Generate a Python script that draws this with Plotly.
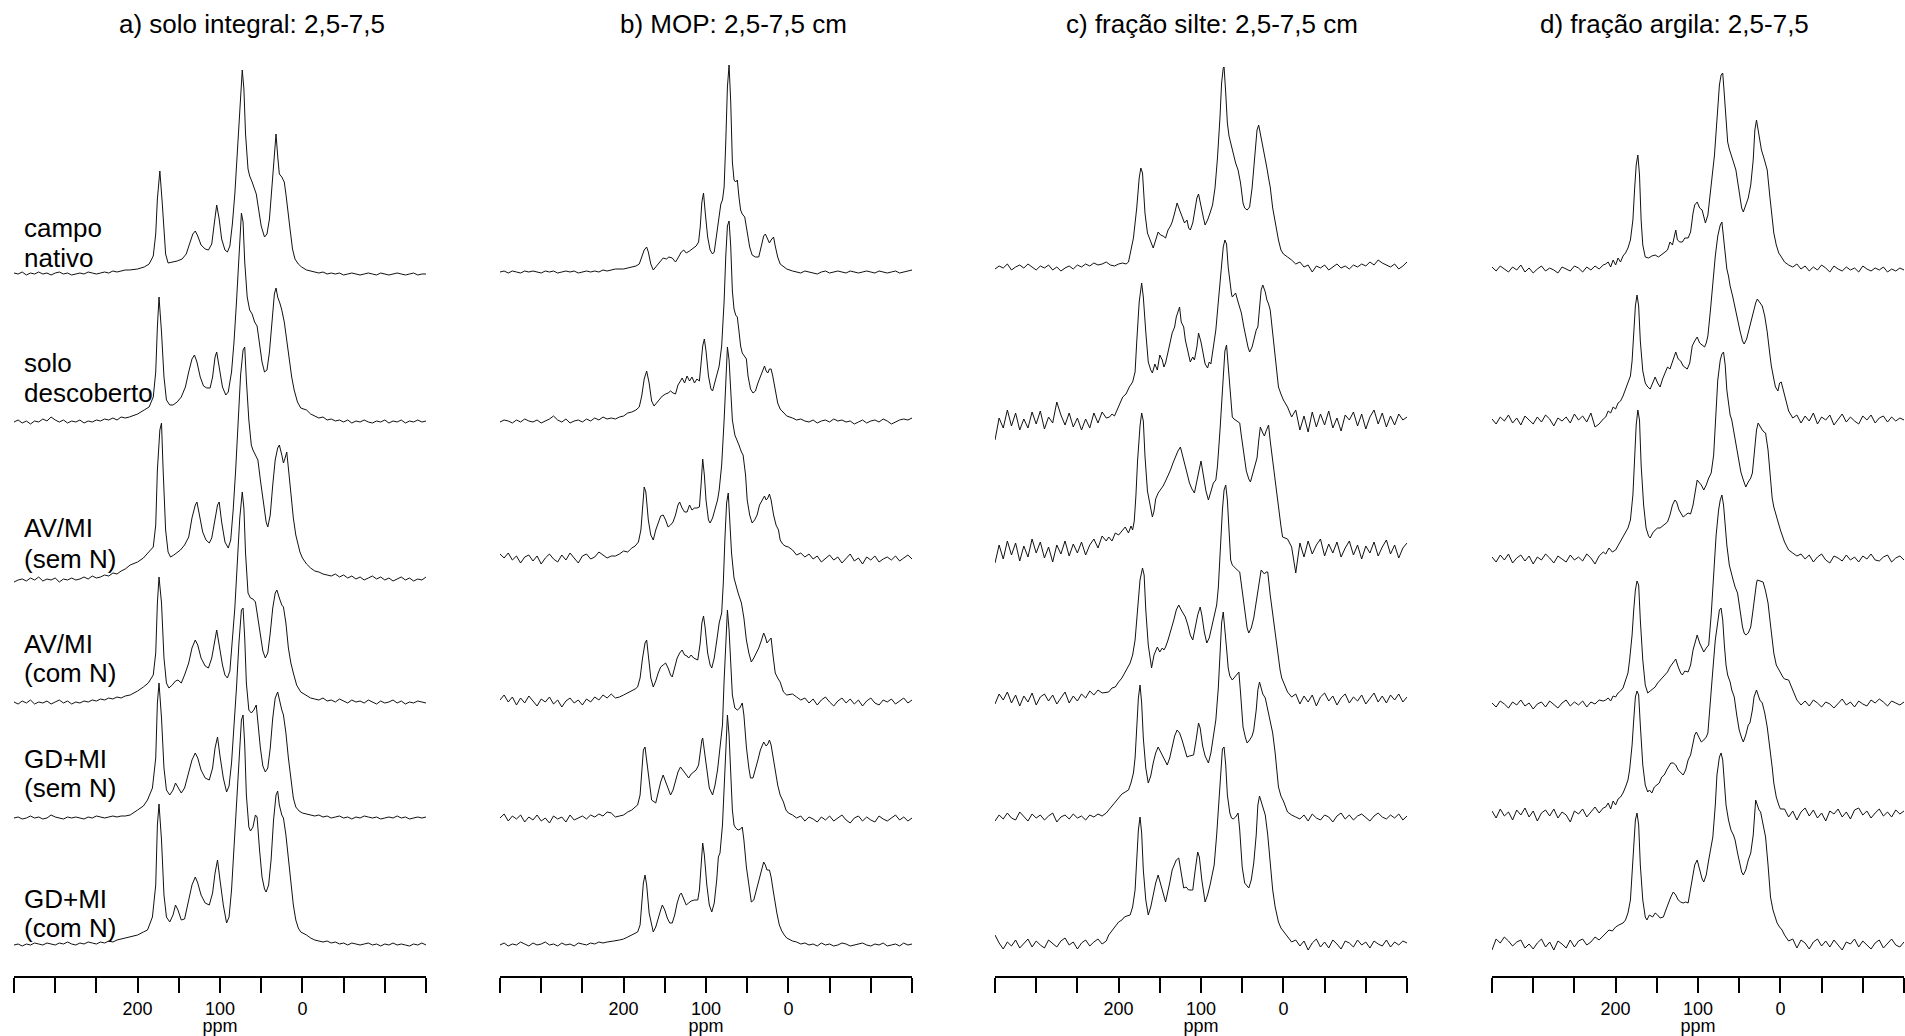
import plotly.graph_objects as go

# ---------------- data ----------------
LEFT_PPM = [350, 345, 340, 335, 330, 325, 320, 315, 310, 305, 300, 295, 290, 285,
            280, 275, 270, 265, 260, 255, 250, 245, 240, 235, 230, 225, 220, 215]
RIGHT_PPM = [-5, -10, -15, -20, -25, -30, -35, -40, -45, -50, -55, -60, -65, -70, -75,
             -80, -85, -90, -95, -100, -105, -110, -115, -120, -125, -130, -135, -140, -145, -150]

AXIS_TICKS = [350, 300, 250, 200, 150, 100, 50, 0, -50, -100, -150]
AXIS_TICKTEXT = ["", "", "", "200", "", "100", "", "0", "", "", ""]

PANEL_TITLES = ["a) solo integral: 2,5-7,5", "b) MOP: 2,5-7,5 cm",
                "c) fração silte: 2,5-7,5 cm", "d) fração argila: 2,5-7,5"]
SAMPLE_LABELS = [["campo", "nativo"], ["solo", "descoberto"], ["AV/MI", "(sem N)"],
                 ["AV/MI", "(com N)"], ["GD+MI", "(sem N)"], ["GD+MI", "(com N)"]]

# ---- panel a: solo integral ----
A1_LEFT = [1,0,2,-1,1,0,2, 0,1,-1,1,2,0,1, -1,0,1,0,2,1,0, 1,2,1,3,2,3,4]
A1_PEAK = [(210,4),(200,5),(192,7),(186,10),(181,18),(178,40),(176,75),(173,103),(170,70),(168,38),
           (166,20),(163,11),(158,12),(152,13),(146,15),(141,20),(137,30),(133,40),(130,43),(127,38),
           (123,29),(118,25),(114,24),(110,30),(107,50),(104,69),(101,55),(98,35),(94,24),(91,22),
           (88,28),(85,50),(82,80),(79,120),(76,170),(73,204),(71,185),(69,140),(66,105),(64,98),
           (61,92),(58,84),(56,80),(53,64),(50,48),(46,37),(43,40),(40,55),(37,90),(34,125),
           (32,140),(30,118),(28,100),(25,97),(22,92),(20,80),(18,68),(15,45),(12,25),(9,15),(5,10),(1,7)]
A1_RIGHT = [4,3,2,1,2,0, 1,0,1,-1,0,1, 0,-1,0,1,0,-1, 1,0,-1,0,1,0, -1,0,1,-1,0,0]

A2_LEFT = [0,2,-1,1,-2,1,0, 3,1,5,2,0,2,-1, 1,0,2,-1,1,0,2, 1,3,2,4,2,5,4]
A2_PEAK = [(210,5),(200,8),(192,12),(186,15),(181,25),(178,50),(176,95),(174,125),(171,90),(168,45),
           (165,22),(161,17),(157,17),(152,20),(147,25),(142,35),(138,50),(134,63),(131,67),(128,60),
           (124,45),(120,36),(116,34),(112,34),(109,45),(106,65),(104,70),(101,55),(97,35),(93,27),
           (90,30),(86,50),(83,80),(80,120),(77,170),(74,209),(72,200),(70,160),(67,125),(64,112),
           (61,108),(58,100),(55,96),(52,78),(49,60),(46,50),(43,52),(40,70),(37,100),(34,128),
           (32,134),(30,125),(27,118),(25,112),(22,100),(19,80),(16,60),(13,45),(10,32),(6,20),(2,14)]
A2_RIGHT = [12,8,6,4,5,2, 3,1,2,0,2,-1, 1,0,2,0,-1,1, 0,2,-1,1,0,2, -1,1,0,2,0,1]

A3_LEFT = [-2,0,1,-1,2,0,3, -1,1,0,2,-2,1,0, 2,0,1,3,1,4,2, 3,5,4,7,6,9,11]
A3_PEAK = [(209,15),(200,18),(193,22),(187,28),(181,33),(178,55),(176,110),(173,150),(171,157),(169,110),
           (166,50),(163,28),(160,23),(156,25),(152,28),(148,30),(143,35),(138,43),(134,62),(130,75),
           (128,78),(125,65),(121,48),(117,40),(113,37),(110,42),(106,60),(103,75),(101,78),(98,58),
           (94,38),(90,32),(87,40),(84,70),(81,110),(78,160),(75,205),(72,230),(70,233),(68,200),
           (65,160),(62,135),(60,130),(57,125),(54,120),(51,100),(47,75),(44,58),(42,53),(39,65),
           (36,95),(33,120),(30,132),(28,135),(25,125),(23,117),(21,122),(19,128),(17,112),(14,85),
           (11,62),(8,45),(6,37),(3,28),(0,22)]
A3_RIGHT = [16,12,9,8,6,5, 4,6,3,5,2,4, 1,3,0,2,4,1, 3,0,2,-1,1,3, 0,2,-1,1,0,3]

A4_LEFT = [1,-1,2,0,3,-1,1, 0,2,-1,1,3,0,2, -1,1,0,2,1,3,2, 4,3,5,4,6,5,7]
A4_PEAK = [(209,8),(200,12),(193,16),(187,20),(181,28),(178,50),(176,100),(174,126),(171,100),(168,45),
           (165,20),(162,15),(158,18),(154,22),(151,23),(147,20),(143,28),(138,40),(134,55),(130,63),
           (127,58),(123,45),(118,37),(114,35),(110,45),(107,60),(104,73),(101,58),(97,38),(94,28),
           (91,25),(88,32),(85,60),(82,95),(79,140),(76,185),(73,211),(71,195),(69,150),(66,110),
           (63,105),(60,104),(57,101),(54,85),(51,65),(48,52),(45,45),(42,50),(39,70),(36,95),
           (33,110),(31,113),(28,105),(25,98),(23,96),(20,80),(17,55),(14,40),(11,30),(7,18),(2,11)]
A4_RIGHT = [7,5,4,3,5,2, 3,1,4,2,0,3, 1,2,0,3,1,-1, 2,0,1,3,0,2, -1,1,0,2,1,0]

A5_LEFT = [0,1,-1,0,2,0,1, -1,0,3,1,0,-1,1, 0,1,0,-1,1,0,2, 1,0,1,2,1,2,2]
A5_PEAK = [(209,3),(200,8),(193,12),(188,18),(182,30),(178,60),(176,115),(174,135),(171,100),(168,50),
           (165,28),(161,23),(157,28),(154,35),(151,30),(147,25),(143,30),(138,45),(134,58),(130,65),
           (127,60),(123,48),(118,40),(113,38),(109,50),(106,70),(103,81),(100,62),(96,40),(92,26),
           (89,32),(86,55),(83,90),(80,130),(77,175),(74,208),(72,210),(70,180),(68,135),(65,108),
           (62,105),(59,108),(56,113),(54,95),(51,70),(48,52),(45,46),(42,50),(39,70),(36,100),
           (33,120),(30,126),(28,118),(25,108),(23,103),(20,85),(17,60),(14,38),(11,20),(8,11),(4,7),(0,5)]
A5_RIGHT = [4,3,2,3,1,2, 0,1,2,0,1,-1, 1,0,2,1,0,1, -1,0,1,0,2,0, 1,-1,0,1,0,1]

A6_LEFT = [0,1,-1,1,0,2,1, 0,2,1,0,2,1,3, 1,0,2,1,3,2,1, 3,2,4,3,5,6,7]
A6_PEAK = [(209,8),(200,10),(193,13),(188,15),(182,28),(178,60),(176,120),(174,141),(171,105),(168,50),
           (165,28),(161,23),(157,30),(154,40),(151,35),(147,25),(143,26),(138,45),(134,60),(130,68),
           (127,62),(123,50),(118,42),(113,40),(109,52),(106,72),(103,85),(100,65),(96,40),(92,22),
           (89,28),(86,55),(83,95),(80,140),(77,185),(74,225),(72,230),(70,200),(68,150),(65,118),
           (63,114),(60,118),(57,130),(55,128),(52,95),(49,68),(46,56),(44,53),(41,60),(38,85),
           (35,125),(32,150),(30,154),(28,140),(25,130),(23,127),(20,110),(17,88),(14,62),(11,40),
           (8,25),(5,17),(2,13)]
A6_RIGHT = [10,7,5,4,3,4, 2,3,1,2,0,2, 1,0,1,2,0,1, -1,1,0,2,0,1, 0,-1,1,0,2,0]

# ---- panel b: MOP ----
B1_LEFT = [0,1,-1,1,0,-1,1, 0,1,0,-1,1,0,1, -1,0,1,0,1,-1,0, 1,0,1,0,2,1,2]
B1_PEAK = [(210,3),(200,3),(195,4),(190,5),(185,6),(181,8),(178,15),(175,22),(172,25),(170,20),
           (167,8),(164,2),(160,6),(156,10),(152,14),(148,13),(145,15),(141,14),(137,10),(134,14),
           (130,20),(127,22),(124,19),(120,21),(116,24),(112,26),(109,30),(107,45),(105,70),(103,79),
           (101,60),(98,35),(95,22),(92,18),(90,20),(87,38),(84,60),(82,68),(80,72),(78,85),
           (76,130),(74,185),(72,207),(70,170),(68,110),(66,92),(64,90),(62,92),(60,75),(58,62),
           (56,58),(53,55),(50,40),(47,25),(44,17),(40,15),(36,15),(33,25),(30,36),(28,38),
           (26,34),(23,29),(21,32),(18,35),(16,26),(13,15),(10,8),(6,5),(2,3)]
B1_RIGHT = [1,0,-1,1,0,-1, -2,0,1,-1,0,1, 0,-1,1,0,-1,0, 1,0,-1,1,0,-1, 0,1,-1,0,1,2]

B2_LEFT = [-1,1,0,-2,1,-1,2, 0,-1,1,-2,0,2,5, 1,-1,2,-2,0,1,-1, 2,0,3,1,4,2,3]
B2_PEAK = [(210,2),(205,4),(200,5),(195,8),(190,9),(185,11),(181,14),(178,25),(175,42),(172,50),
           (169,38),(166,20),(163,15),(160,18),(156,22),(153,25),(149,27),(146,28),(143,30),(140,28),
           (137,27),(134,36),(131,40),(129,43),(126,38),(123,45),(120,40),(117,44),(114,38),(111,42),
           (108,40),(106,55),(104,75),(102,82),(100,70),(97,45),(94,32),(92,30),(89,40),(86,50),
           (84,55),(81,75),(78,120),(76,165),(74,195),(72,200),(70,175),(68,130),(66,112),(64,106),
           (62,104),(60,90),(58,75),(56,68),(53,65),(51,62),(49,45),(46,32),(43,28),(40,30),
           (37,38),(34,45),(31,52),(29,55),(27,50),(25,48),(23,52),(21,52),(19,45),(16,30),
           (13,18),(10,12),(6,8),(2,5)]
B2_RIGHT = [3,1,2,0,-1,1, -2,0,1,-1,2,0, 1,-1,0,-3,-1,1, -2,0,1,-1,2,0, -3,-1,1,2,1,3]

B3_LEFT = [6,2,7,0,4,-3,3, 5,-1,4,-4,2,6,1, -2,5,0,7,2,-3,4, 6,1,3,8,5,2,4]
B3_PEAK = [(210,4),(205,6),(200,9),(195,8),(190,12),(186,14),(182,18),(179,30),(177,55),(175,73),
           (173,68),(170,40),(167,25),(164,20),(161,30),(158,38),(155,44),(152,45),(149,40),(146,33),
           (143,35),(140,38),(137,45),(134,55),(132,58),(129,52),(126,48),(123,48),(120,55),(117,50),
           (114,52),(111,52),(108,53),(106,75),(104,101),(102,85),(100,60),(97,40),(95,37),(92,42),
           (89,50),(86,60),(84,70),(81,95),(78,140),(76,185),(74,213),(72,200),(70,165),(68,140),
           (65,125),(62,120),(60,115),(57,108),(55,105),(52,85),(50,60),(47,45),(44,37),(41,40),
           (38,45),(35,55),(32,60),(29,64),(27,60),(25,62),(23,66),(21,60),(18,45),(15,35),
           (12,30),(10,20),(7,16),(4,14),(0,13)]
B3_RIGHT = [10,5,7,3,6,1, 4,-2,2,5,0,3, -3,1,6,-1,2,-4, 3,0,4,-2,1,3, 0,4,-1,2,5,1]

B4_LEFT = [3,8,1,6,-2,5,0, 7,2,-3,4,1,6,-1, 3,-4,2,5,0,3,-2, 4,1,6,3,8,5,9]
B4_PEAK = [(210,5),(205,6),(200,8),(195,10),(190,12),(186,14),(183,16),(180,25),(177,45),(174,60),
           (172,63),(170,45),(167,25),(164,16),(161,22),(158,30),(155,36),(152,38),(149,40),(146,35),
           (143,28),(141,26),(138,35),(135,45),(132,50),(129,53),(126,48),(123,47),(121,45),(118,48),
           (115,45),(112,44),(110,43),(107,60),(105,80),(103,87),(101,75),(98,50),(95,38),(93,35),
           (90,45),(87,62),(84,80),(81,90),(79,120),(77,165),(75,200),(73,210),(71,185),(69,150),
           (66,125),(63,114),(61,110),(59,105),(57,100),(54,85),(51,63),(48,50),(45,41),(42,45),
           (39,50),(36,55),(33,62),(30,70),(28,66),(26,60),(24,62),(21,65),(19,50),(16,30),
           (13,25),(10,21),(8,16),(6,11),(2,8)]
B4_RIGHT = [9,6,3,5,0,4, -2,3,6,1,-3,2, 5,0,4,-1,3,-3, 2,5,0,-2,3,1, 4,-1,2,5,0,3]

B5_LEFT = [2,6,-1,4,1,5,-2, 3,0,5,-1,2,-3,4, 1,3,-2,5,0,2,4, 1,5,3,6,4,8,7]
B5_PEAK = [(210,3),(205,4),(200,5),(195,8),(190,10),(186,13),(183,15),(180,25),(178,50),(176,70),
           (174,73),(172,60),(169,35),(166,20),(161,17),(158,28),(155,38),(152,45),(149,38),(146,30),
           (143,25),(140,30),(137,40),(134,48),(131,53),(128,50),(125,46),(121,42),(118,46),(115,48),
           (112,50),(109,55),(107,70),(105,80),(104,82),(102,70),(99,48),(96,32),(92,25),(89,35),
           (86,50),(83,73),(80,95),(78,140),(76,185),(74,210),(72,190),(70,150),(68,125),(65,112),
           (62,110),(59,112),(56,117),(54,105),(51,73),(48,52),(46,42),(43,42),(40,50),(37,60),
           (34,70),(31,76),(30,78),(27,74),(25,76),(23,80),(21,75),(18,60),(15,45),(13,35),
           (10,25),(6,18),(3,10),(0,7)]
B5_RIGHT = [5,2,4,-1,3,1, -2,3,0,4,-1,2, 5,0,-3,2,4,-1, 3,0,-2,4,1,-1, 2,5,0,3,-1,2]

B6_LEFT = [0,2,-1,1,0,3,1, -1,2,0,1,3,0,1, -1,2,0,1,-1,2,1, 0,2,1,3,2,3,4]
B6_PEAK = [(212,4),(205,5),(200,6),(195,8),(190,10),(186,11),(183,13),(180,20),(178,40),(176,62),
           (174,70),(172,60),(169,32),(166,18),(164,13),(161,18),(158,28),(155,35),(153,40),(150,35),
           (147,27),(144,22),(141,22),(138,30),(135,42),(132,50),(130,52),(127,45),(124,40),(121,42),
           (118,44),(114,45),(110,45),(108,55),(106,85),(104,102),(102,90),(99,60),(96,40),(93,33),
           (90,42),(87,65),(85,88),(83,92),(80,120),(78,160),(76,205),(74,230),(72,210),(70,170),
           (68,135),(66,120),(64,117),(61,115),(58,116),(56,118),(54,105),(51,78),(48,58),(45,43),
           (42,45),(39,55),(36,65),(33,75),(30,83),(28,80),(26,75),(23,75),(21,68),(18,52),
           (16,40),(14,32),(11,20),(8,14),(5,10),(2,7)]
B6_RIGHT = [4,3,1,2,0,1, -1,2,0,1,-1,0, 2,1,-1,0,1,2, 0,-1,1,0,2,-1, 0,1,-1,2,0,1]

# ---- panel c: fração silte ----
C1_LEFT = [-1,2,0,4,-2,1,3, 0,4,1,-2,2,0,3, -2,1,-3,0,2,-1,3, 1,4,2,5,3,4,6]
C1_PEAK = [(210,3),(205,2),(200,4),(195,5),(191,4),(188,6),(185,18),(182,30),(180,45),(178,60),
           (175,90),(173,100),(171,95),(168,55),(165,35),(162,28),(160,24),(158,20),(155,28),(152,36),
           (149,33),(146,32),(143,30),(140,38),(137,42),(135,46),(132,55),(130,62),(129,65),(126,58),
           (123,51),(120,45),(117,48),(115,40),(113,38),(110,45),(107,60),(105,70),(103,74),(100,60),
           (97,50),(95,43),(92,48),(89,55),(86,63),(83,80),(80,110),(77,150),(75,185),(73,200),
           (72,201),(70,175),(68,145),(66,132),(64,125),(61,113),(58,105),(55,98),(52,85),(49,65),
           (47,60),(44,58),(41,61),(38,80),(35,110),(32,138),(30,143),(28,135),(25,122),(23,115),
           (20,100),(18,90),(16,81),(13,60),(10,45),(8,35),(6,28),(3,18),(0,14)]
C1_RIGHT = [11,8,4,6,1,3, -4,2,0,3,-2,1, 4,0,2,-1,3,1, 4,2,6,3,8,5, 3,1,4,-1,2,6]

C2_LEFT = [-18,4,-6,12,-4,9,-8, 3,-6,10,-2,11,-7,5, -1,20,7,-3,9,-5,4, -8,3,-6,9,-1,10,4]
C2_PEAK = [(211,5),(208,8),(205,6),(200,15),(197,22),(195,25),(191,28),(187,35),(183,40),(180,50),
           (178,80),(175,120),(172,139),(170,125),(167,90),(164,60),(161,52),(159,49),(156,58),(153,52),
           (150,67),(147,62),(145,55),(143,59),(140,70),(137,80),(135,89),(132,95),(130,105),(128,110),
           (126,115),(124,100),(121,95),(119,82),(116,70),(113,60),(110,65),(108,62),(105,75),(103,89),
           (100,80),(97,65),(95,58),(92,54),(90,60),(88,58),(85,75),(82,92),(79,120),(76,150),
           (73,175),(71,182),(69,178),(67,155),(65,140),(63,128),(62,125),(60,127),(58,129),(55,120),
           (53,115),(51,109),(48,95),(45,82),(43,75),(41,70),(38,75),(35,85),(33,92),(31,95),
           (29,115),(27,132),(25,137),(22,130),(20,122),(18,118),(16,112),(13,90),(10,65),(8,50),
           (6,35),(3,28),(0,22)]
C2_RIGHT = [15,5,12,-8,6,-10, 10,-5,8,-3,11,-6, 4,-9,7,2,10,-4, 8,-7,5,12,-2,9, -5,6,-3,8,2,5]

C3_LEFT = [-12,6,-8,10,-4,8,-10, 5,-6,12,-2,9,-7,4, -11,6,-3,10,-5,7,-2, 9,-4,6,12,3,15,10]
C3_PEAK = [(212,14),(208,10),(204,18),(200,16),(196,20),(192,24),(188,18),(185,25),(183,21),(181,30),
           (179,55),(177,90),(174,125),(172,138),(170,130),(168,95),(165,60),(162,45),(159,34),(157,40),
           (155,52),(152,58),(149,61),(146,65),(143,70),(140,75),(137,81),(134,88),(131,95),(128,100),
           (125,104),(122,95),(119,85),(117,78),(114,68),(111,62),(108,58),(105,70),(102,85),(100,90),
           (97,75),(94,60),(91,51),(88,60),(85,68),(82,71),(80,85),(77,120),(74,165),(71,200),
           (69,206),(67,185),(65,160),(63,140),(62,134),(60,132),(57,130),(55,129),(53,128),(51,115),
           (48,95),(45,80),(42,72),(40,69),(37,78),(34,88),(32,93),(30,110),(28,124),(25,118),
           (23,115),(21,120),(18,126),(16,110),(13,90),(10,70),(8,55),(6,40),(3,25),(1,14)]
C3_RIGHT = [12,4,-22,8,-6,10, -3,6,12,-5,7,-2, 9,-6,3,10,-4,6, -8,5,-2,9,-5,4, 11,-3,6,-7,3,8]

C4_LEFT = [-4,6,0,8,-3,5,-6, 4,-2,7,-5,3,6,-1, 5,-4,2,8,-3,4,-1, 6,2,9,5,10,7,8]
C4_PEAK = [(212,8),(208,12),(204,13),(200,18),(196,22),(192,28),(189,33),(186,37),(183,45),(180,60),
           (177,90),(174,120),(171,132),(169,125),(167,90),(164,55),(161,38),(160,32),(157,45),(155,50),
           (153,53),(150,48),(147,52),(145,50),(143,53),(140,60),(137,68),(135,75),(133,80),(130,90),
           (127,95),(124,90),(121,85),(119,83),(116,75),(113,65),(110,60),(107,72),(104,85),(101,93),
           (99,85),(96,68),(93,57),(90,62),(87,72),(84,82),(81,95),(79,112),(77,150),(74,190),
           (72,210),(70,215),(68,200),(66,165),(64,140),(62,135),(59,132),(56,130),(53,128),(50,108),
           (47,88),(44,72),(42,67),(39,72),(36,82),(33,97),(30,115),(27,130),(25,128),(23,126),
           (21,128),(19,128),(16,105),(13,85),(11,72),(8,55),(6,42),(4,30),(2,22)]
C4_RIGHT = [8,3,6,-4,4,-2, 5,-6,3,7,-1,4, -5,2,6,-3,3,-1, 5,-4,2,7,-2,4, -3,5,0,6,-2,3]

C5_LEFT = [-3,3,-1,5,0,-2,6, 1,-3,4,0,3,-2,2, 5,-4,1,3,-1,4,0, 2,-2,3,1,4,2,5]
C5_PEAK = [(212,8),(208,13),(204,16),(200,20),(196,24),(192,26),(188,28),(185,35),(182,45),(180,60),
           (178,85),(176,120),(174,133),(172,115),(170,80),(167,50),(164,35),(161,42),(158,55),(155,65),
           (152,71),(149,66),(146,60),(143,56),(141,53),(138,60),(135,72),(132,82),(129,88),(126,85),
           (123,78),(120,68),(117,61),(114,62),(111,63),(109,63),(106,78),(103,95),(101,90),(98,72),
           (95,62),(92,56),(91,55),(88,65),(85,80),(82,98),(79,130),(77,165),(75,195),(73,206),
           (71,190),(69,170),(67,150),(65,142),(62,138),(60,140),(57,143),(54,146),(52,125),(49,91),
           (46,80),(44,75),(41,78),(38,82),(36,88),(33,108),(31,128),(29,136),(27,130),(25,124),
           (22,120),(19,108),(16,98),(13,85),(10,65),(8,50),(6,31),(3,22),(0,17)]
C5_RIGHT = [6,3,1,-1,3,-3, 4,0,-2,3,1,-4, 2,5,-1,3,-2,2, 4,0,-3,2,5,1, -1,3,0,4,-2,2]

C6_LEFT = [10,2,-4,3,-1,5,-3, 2,6,-2,4,0,-3,5, 1,-2,4,7,0,3,-4, 2,5,-1,3,6,1,4]
C6_PEAK = [(212,10),(208,14),(204,18),(200,23),(196,25),(193,28),(190,29),(186,30),(183,38),(180,55),
           (178,85),(176,115),(174,128),(172,112),(170,75),(167,45),(164,30),(161,38),(158,50),(155,62),
           (152,70),(149,62),(146,52),(143,43),(141,50),(138,62),(135,75),(132,80),(130,85),(127,87),
           (124,72),(121,57),(118,58),(115,55),(112,55),(110,55),(107,75),(104,93),(102,88),(99,65),
           (95,43),(92,50),(89,60),(86,72),(84,80),(81,110),(78,150),(76,180),(74,196),(72,198),
           (70,180),(68,150),(65,132),(63,127),(61,126),(58,128),(55,132),(53,115),(50,78),(47,62),
           (45,60),(42,57),(39,65),(36,82),(33,110),(31,140),(29,149),(27,143),(24,136),(22,130),
           (19,110),(16,78),(13,55),(10,38),(8,30),(6,23),(3,17),(0,14)]
C6_RIGHT = [8,3,5,-1,4,-5, 2,6,-2,3,-3,5, 1,-4,4,2,-2,5, 0,3,-3,4,1,-1, 5,-2,3,0,4,2]

# ---- panel d: fração argila ----
D1_LEFT = [3,-1,4,1,-2,3,0, 5,-2,2,-3,1,4,-1, 2,0,-3,3,1,-1,4, 2,-2,3,0,4,1,5]
D1_PEAK = [(212,6),(209,8),(206,3),(203,10),(200,5),(197,12),(194,8),(191,14),(188,17),(185,22),
           (182,30),(179,50),(177,80),(175,105),(173,115),(171,95),(169,50),(167,25),(164,13),(160,12),
           (156,14),(152,15),(148,13),(144,16),(140,18),(137,20),(134,28),(131,25),(128,35),(127,40),
           (125,30),(122,28),(119,28),(116,32),(112,32),(109,38),(106,57),(104,65),(101,68),(98,62),
           (95,60),(93,52),(91,47),(88,55),(85,75),(82,100),(80,115),(77,150),(74,185),(72,195),
           (70,197),(68,175),(66,145),(64,128),(62,121),(60,115),(57,108),(54,100),(52,90),(49,75),
           (47,62),(45,58),(42,65),(39,72),(36,85),(33,110),(31,140),(29,150),(27,140),(25,128),
           (23,120),(20,112),(18,105),(16,100),(13,75),(10,50),(8,37),(5,25),(2,17),(-2,12)]
D1_RIGHT = [8,5,3,6,1,4, -1,3,0,5,2,-2, 4,1,-1,3,0,2, -2,4,1,-1,2,0, 3,-2,1,-1,2,0]

D2_LEFT = [2,-3,4,0,6,-2,3, -4,5,1,-3,4,-1,6, 2,-5,3,0,4,-2,7, 1,5,-1,8,-6,-3,2]
D2_PEAK = [(212,4),(209,10),(206,8),(203,14),(200,12),(197,18),(194,20),(191,25),(188,32),(185,38),
           (182,45),(180,60),(178,90),(176,115),(174,126),(172,115),(170,80),(167,50),(164,38),(161,34),
           (158,32),(155,38),(152,44),(149,38),(146,34),(143,42),(140,48),(137,54),(134,52),(131,60),
           (128,66),(127,69),(124,62),(121,60),(118,55),(115,53),(113,52),(110,58),(107,75),(104,80),
           (101,84),(98,78),(95,76),(92,74),(90,78),(88,85),(85,110),(82,140),(79,165),(76,185),
           (73,196),(71,199),(69,185),(67,165),(65,152),(63,145),(61,135),(58,125),(55,112),(52,100),
           (49,90),(46,80),(44,77),(41,82),(38,92),(36,99),(33,110),(30,118),(28,122),(26,120),
           (24,117),(22,115),(19,105),(16,89),(13,68),(11,55),(8,42),(6,34),(3,30),(1,38),(-1,39)]
D2_RIGHT = [25,10,3,6,-2,5, 0,8,-3,4,1,6, -4,2,7,-1,4,0, -3,5,1,6,-2,3, 5,-1,4,0,3,1]

D3_LEFT = [3,-2,5,0,6,-3,2, 5,-1,4,-4,3,0,6, 2,-3,4,1,-2,5,0, 3,-1,6,2,-4,4,8]
D3_PEAK = [(212,6),(208,12),(204,8),(200,10),(196,16),(192,22),(188,28),(185,32),(182,40),(179,65),
           (177,100),(175,135),(173,150),(171,140),(169,95),(166,55),(163,32),(160,24),(158,22),(155,27),
           (152,30),(149,32),(146,32),(143,34),(140,36),(137,38),(134,45),(131,55),(128,60),(126,58),
           (123,50),(120,45),(118,43),(115,45),(112,47),(109,46),(106,55),(103,70),(101,80),(99,78),
           (96,75),(93,70),(90,75),(87,82),(84,87),(81,105),(78,145),(76,180),(73,200),(71,206),
           (69,208),(67,195),(65,170),(63,155),(61,145),(59,140),(57,130),(54,115),(51,100),(48,88),
           (45,80),(42,73),(39,78),(36,82),(34,87),(31,110),(29,130),(27,137),(24,132),(22,130),
           (20,128),(18,127),(15,110),(12,80),(10,62),(8,53),(6,47),(3,40),(0,30)]
D3_RIGHT = [18,10,7,4,6,1, 5,-2,3,6,0,-3, 4,2,-1,5,0,3, -2,4,1,6,0,-1, 3,5,-2,2,4,0]

D4_LEFT = [2,-2,4,1,-3,3,0, 5,-1,2,-4,1,3,-2, 4,0,-3,2,5,-1,3, 0,4,-2,3,1,5,4]
D4_PEAK = [(212,5),(209,7),(206,4),(203,9),(200,8),(197,12),(194,14),(191,17),(188,25),(185,32),
           (183,45),(180,70),(178,95),(176,115),(174,124),(172,120),(170,85),(167,45),(164,20),(161,12),
           (158,14),(155,16),(152,18),(149,22),(146,25),(143,28),(140,30),(137,33),(134,38),(131,42),
           (128,45),(127,46),(124,38),(121,32),(119,30),(116,34),(112,33),(109,40),(106,55),(103,65),
           (101,70),(98,62),(95,56),(93,53),(90,57),(87,60),(84,90),(81,130),(78,170),(75,195),
           (73,205),(71,210),(69,200),(67,180),(65,160),(62,140),(60,132),(58,127),(55,118),(52,112),
           (49,95),(46,78),(44,72),(42,70),(39,72),(36,78),(34,90),(31,112),(29,122),(28,125),
           (25,124),(23,123),(21,123),(18,114),(15,102),(12,80),(10,62),(8,52),(5,40),(2,35),(0,32),(-3,28)]
D4_RIGHT = [26,25,15,5,0,4, -1,5,2,-2,3,1, -3,2,6,0,3,-2, 4,1,-1,5,2,6, 3,-1,4,2,0,3]

D5_LEFT = [4,-3,6,-1,3,-5,5, 0,7,-2,4,-6,2,5, -1,6,-3,3,0,-7,4, 1,6,-2,3,8,2,7]
D5_PEAK = [(212,8),(209,12),(206,6),(203,14),(200,10),(197,16),(194,18),(191,22),(188,28),(185,35),
           (183,45),(180,70),(178,95),(176,118),(174,124),(172,120),(170,90),(167,50),(164,30),(161,23),
           (159,25),(156,22),(153,28),(150,30),(147,32),(144,38),(141,40),(138,45),(136,48),(133,52),
           (130,52),(127,50),(124,45),(121,42),(118,40),(115,45),(112,55),(109,60),(106,72),(104,80),
           (102,83),(99,78),(96,73),(93,75),(90,78),(88,82),(85,110),(82,145),(79,175),(76,195),
           (74,205),(72,207),(70,195),(68,170),(66,150),(64,140),(61,133),(59,125),(56,118),(53,100),
           (50,85),(47,77),(45,73),(42,80),(39,90),(37,92),(34,105),(32,118),(29,125),(27,120),
           (25,115),(22,112),(19,102),(16,88),(13,70),(10,48),(8,32),(5,18),(2,10),(0,6)]
D5_RIGHT = [6,-2,4,-5,3,7, -1,5,-3,2,-6,4, 1,6,-2,3,-4,5, 7,0,4,-3,2,6, -1,3,-2,5,1,4]

D6_LEFT = [-5,6,2,8,4,-1,3, 5,-3,1,-4,2,6,-2, 3,-5,4,1,-3,5,-2, 4,6,0,3,8,5,9]
D6_PEAK = [(212,12),(208,15),(204,14),(200,18),(196,20),(191,22),(188,25),(185,32),(182,45),(180,70),
           (178,100),(176,125),(174,132),(172,120),(170,80),(167,45),(164,28),(162,25),(159,30),(155,28),
           (152,32),(149,30),(146,27),(142,28),(139,35),(136,42),(133,48),(130,53),(127,50),(124,45),
           (121,43),(118,42),(115,43),(112,42),(109,55),(106,70),(104,80),(101,85),(98,75),(95,66),
           (93,63),(90,70),(87,85),(84,100),(82,108),(79,140),(77,170),(74,188),(72,192),(70,185),
           (68,160),(66,140),(63,125),(60,115),(57,110),(55,105),(52,92),(49,80),(47,73),(45,70),
           (42,75),(39,85),(36,92),(33,110),(31,135),(30,145),(28,140),(26,135),(24,133),(21,120),
           (18,108),(15,80),(12,48),(9,35),(6,28),(4,22),(1,18),(-2,15)]
D6_RIGHT = [10,4,6,-3,5,2, -4,3,6,-1,4,-2, 5,0,-5,3,1,6, -2,4,0,-4,2,5, -3,1,6,0,-2,3]

PANELS = [
    [(A1_LEFT, A1_PEAK, A1_RIGHT), (A2_LEFT, A2_PEAK, A2_RIGHT), (A3_LEFT, A3_PEAK, A3_RIGHT),
     (A4_LEFT, A4_PEAK, A4_RIGHT), (A5_LEFT, A5_PEAK, A5_RIGHT), (A6_LEFT, A6_PEAK, A6_RIGHT)],
    [(B1_LEFT, B1_PEAK, B1_RIGHT), (B2_LEFT, B2_PEAK, B2_RIGHT), (B3_LEFT, B3_PEAK, B3_RIGHT),
     (B4_LEFT, B4_PEAK, B4_RIGHT), (B5_LEFT, B5_PEAK, B5_RIGHT), (B6_LEFT, B6_PEAK, B6_RIGHT)],
    [(C1_LEFT, C1_PEAK, C1_RIGHT), (C2_LEFT, C2_PEAK, C2_RIGHT), (C3_LEFT, C3_PEAK, C3_RIGHT),
     (C4_LEFT, C4_PEAK, C4_RIGHT), (C5_LEFT, C5_PEAK, C5_RIGHT), (C6_LEFT, C6_PEAK, C6_RIGHT)],
    [(D1_LEFT, D1_PEAK, D1_RIGHT), (D2_LEFT, D2_PEAK, D2_RIGHT), (D3_LEFT, D3_PEAK, D3_RIGHT),
     (D4_LEFT, D4_PEAK, D4_RIGHT), (D5_LEFT, D5_PEAK, D5_RIGHT), (D6_LEFT, D6_PEAK, D6_RIGHT)],
]

# ---------------- layout (positions in page pixels) ----------------
W, H = 1905, 1036
PANEL_PX = [(14, 426), (500, 912), (995, 1407), (1492, 1904)]
BASELINES = [
    [274, 422, 580, 703, 818, 945],
    [272, 421, 560, 703, 820, 945],
    [268, 422, 551, 700, 818, 945],
    [270, 421, 560, 705, 815, 945],
]
AXIS_Y = 977
TITLE_CX = [252, 733, 1212, 1674]
TITLE_Y = 24
LABEL_X = 22
LABEL_Y = [(228, 258), (363, 393), (528, 559), (644, 673), (759, 788), (899, 928)]

FONT = "Liberation Sans, Arial, Helvetica, sans-serif"
LINE_COLOR = "#111111"

fig = go.Figure()

for p, spectra in enumerate(PANELS):
    xref = "x" if p == 0 else f"x{p+1}"
    for s, (left, peak, right) in enumerate(spectra):
        ppm = [v for v, _ in zip(LEFT_PPM, left)] + [q for q, _ in peak] + [v for v, _ in zip(RIGHT_PPM, right)]
        hh = [h for _, h in zip(LEFT_PPM, left)] + [h for _, h in peak] + [h for _, h in zip(RIGHT_PPM, right)]
        base = BASELINES[p][s]
        fig.add_trace(go.Scatter(
            x=ppm, y=[base - h for h in hh], mode="lines",
            line=dict(color=LINE_COLOR, width=1),
            xaxis=xref, yaxis="y", showlegend=False, hoverinfo="skip"))

layout_axes = {}
for p, (x0, x1) in enumerate(PANEL_PX):
    key = "xaxis" if p == 0 else f"xaxis{p+1}"
    layout_axes[key] = dict(
        domain=[x0 / W, x1 / W], range=[350, -150], anchor="free",
        position=1 - AXIS_Y / H,
        tickmode="array", tickvals=AXIS_TICKS, ticktext=AXIS_TICKTEXT,
        ticks="outside", ticklen=15, tickwidth=1.5, tickcolor="black",
        showline=True, linewidth=2, linecolor="black",
        showgrid=False, zeroline=False,
        tickfont=dict(family=FONT, size=18, color="black"),
        title=dict(text="ppm", font=dict(family=FONT, size=18, color="black"), standoff=2),
        fixedrange=True,
    )

fig.update_layout(
    width=W, height=H,
    margin=dict(l=0, r=0, t=0, b=0),
    paper_bgcolor="white", plot_bgcolor="white",
    font=dict(family=FONT, color="black"),
    yaxis=dict(domain=[0, 1], range=[H, 0], visible=False, fixedrange=True),
    **layout_axes,
)

annotations = []
for p, t in enumerate(PANEL_TITLES):
    annotations.append(dict(x=TITLE_CX[p] / W, y=1 - TITLE_Y / H, xref="paper", yref="paper",
                            text=t, showarrow=False, xanchor="center", yanchor="middle",
                            font=dict(family=FONT, size=26, color="black")))
for (l1, l2), (y1, y2) in zip(SAMPLE_LABELS, LABEL_Y):
    for txt, yy in ((l1, y1), (l2, y2)):
        annotations.append(dict(x=LABEL_X / W, y=1 - yy / H, xref="paper", yref="paper",
                                text=txt, showarrow=False, xanchor="left", yanchor="middle",
                                font=dict(family=FONT, size=26, color="black")))
fig.update_layout(annotations=annotations)

fig.write_html("out.html", config={"displayModeBar": False})
